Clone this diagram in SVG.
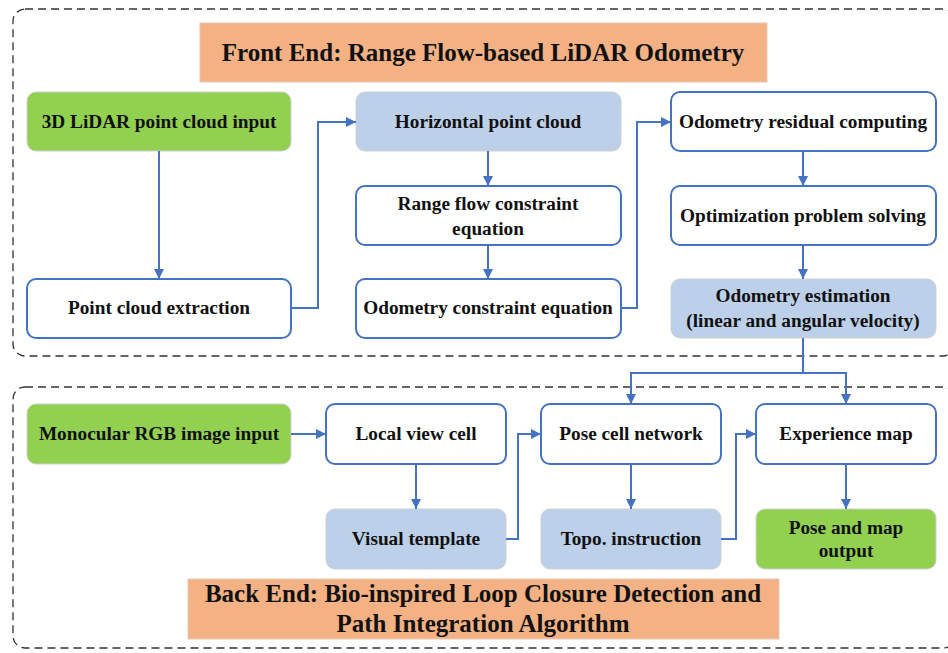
<svg xmlns="http://www.w3.org/2000/svg" width="948" height="653" viewBox="0 0 948 653">
<defs>
<style>
.frame{fill:none;stroke:#333;stroke-width:1.3;stroke-dasharray:8 5}
.title{fill:#F4B183;stroke:#E6C8B4;stroke-width:1}
.tt{font-family:"Liberation Serif",serif;font-weight:bold;font-size:25px;fill:#111;text-anchor:middle}
.w{fill:#fff;stroke:#4472C4;stroke-width:2}
.g{fill:#92D050;stroke:#D0D0D0;stroke-width:1}
.b{fill:#BDD0E9;stroke:#D0D0D0;stroke-width:1}
.t{font-family:"Liberation Serif",serif;font-weight:bold;font-size:19.3px;fill:#111;text-anchor:middle}
.c{fill:none;stroke:#4472C4;stroke-width:2}
</style>
<marker id="ah" viewBox="0 0 10 10" refX="10" refY="5" markerWidth="5" markerHeight="5" orient="auto" markerUnits="strokeWidth">
<path d="M0,0 L10,5 L0,10 z" fill="#4472C4"/>
</marker>
</defs>
<rect width="948" height="653" fill="#fff"/>
<rect class="frame" x="13" y="9" width="942" height="347" rx="12"/>
<rect class="frame" x="13" y="387" width="942" height="261" rx="12"/>
<g id="front-title"><rect class="title" x="200" y="23" width="567" height="59"/><text class="tt" x="483" y="61">Front End: Range Flow-based LiDAR Odometry</text></g>
<g id="back-title"><rect class="title" x="188" y="579" width="591" height="60"/><text class="tt" x="483" y="602">Back End: Bio-inspired Loop Closure Detection and</text><text class="tt" x="483" y="632">Path Integration Algorithm</text></g>
<g id="lidar-input"><rect class="g" x="27" y="92" width="264" height="59" rx="9"/><text class="t" x="159" y="128">3D LiDAR point cloud input</text></g>
<g id="pc-extraction"><rect class="w" x="27" y="279" width="264" height="59" rx="9"/><text class="t" x="159" y="314">Point cloud extraction</text></g>
<g id="horizontal-pc"><rect class="b" x="356" y="92" width="265" height="59" rx="9"/><text class="t" x="488" y="128">Horizontal point cloud</text></g>
<g id="range-flow"><rect class="w" x="356" y="186" width="265" height="59" rx="9"/><text class="t" x="488" y="210">Range flow constraint</text><text class="t" x="488" y="235">equation</text></g>
<g id="odo-constraint"><rect class="w" x="356" y="279" width="265" height="59" rx="9"/><text class="t" x="488" y="314">Odometry constraint equation</text></g>
<g id="odo-residual"><rect class="w" x="671" y="92" width="265" height="59" rx="9"/><text class="t" x="803" y="128">Odometry residual computing</text></g>
<g id="optimization"><rect class="w" x="671" y="186" width="265" height="59" rx="9"/><text class="t" x="803" y="222">Optimization problem solving</text></g>
<g id="odo-estimation"><rect class="b" x="671" y="279" width="265" height="59" rx="9"/><text class="t" x="803" y="302">Odometry estimation</text><text class="t" x="803" y="327">(linear and angular velocity)</text></g>
<g id="rgb-input"><rect class="g" x="27" y="404" width="264" height="60" rx="9"/><text class="t" x="159" y="440">Monocular RGB image input</text></g>
<g id="local-view"><rect class="w" x="326" y="404" width="180" height="60" rx="9"/><text class="t" x="416" y="440">Local view cell</text></g>
<g id="visual-template"><rect class="b" x="326" y="509" width="180" height="60" rx="9"/><text class="t" x="416" y="545">Visual template</text></g>
<g id="pose-cell"><rect class="w" x="541" y="404" width="180" height="60" rx="9"/><text class="t" x="631" y="440">Pose cell network</text></g>
<g id="topo"><rect class="b" x="541" y="509" width="180" height="60" rx="9"/><text class="t" x="631" y="545">Topo. instruction</text></g>
<g id="experience-map"><rect class="w" x="756" y="404" width="180" height="60" rx="9"/><text class="t" x="846" y="440">Experience map</text></g>
<g id="output"><rect class="g" x="756" y="509" width="180" height="60" rx="9"/><text class="t" x="846" y="534">Pose and map</text><text class="t" x="846" y="557">output</text></g>
<g id="connectors">
<path class="c" d="M159,151 V279" marker-end="url(#ah)"/>
<path class="c" d="M291,308 H318 V122 H356" marker-end="url(#ah)"/>
<path class="c" d="M488,151 V186" marker-end="url(#ah)"/>
<path class="c" d="M488,245 V279" marker-end="url(#ah)"/>
<path class="c" d="M621,308 H637 V122 H671" marker-end="url(#ah)"/>
<path class="c" d="M803,151 V186" marker-end="url(#ah)"/>
<path class="c" d="M803,245 V279" marker-end="url(#ah)"/>
<path class="c" d="M803,338 V373"/>
<path class="c" d="M803,373 H631 V404" marker-end="url(#ah)"/>
<path class="c" d="M803,373 H846 V404" marker-end="url(#ah)"/>
<path class="c" d="M291,434 H326" marker-end="url(#ah)"/>
<path class="c" d="M416,464 V509" marker-end="url(#ah)"/>
<path class="c" d="M506,539 H518 V434 H541" marker-end="url(#ah)"/>
<path class="c" d="M631,464 V509" marker-end="url(#ah)"/>
<path class="c" d="M721,539 H736 V434 H756" marker-end="url(#ah)"/>
<path class="c" d="M846,464 V509" marker-end="url(#ah)"/>
</g>
</svg>
